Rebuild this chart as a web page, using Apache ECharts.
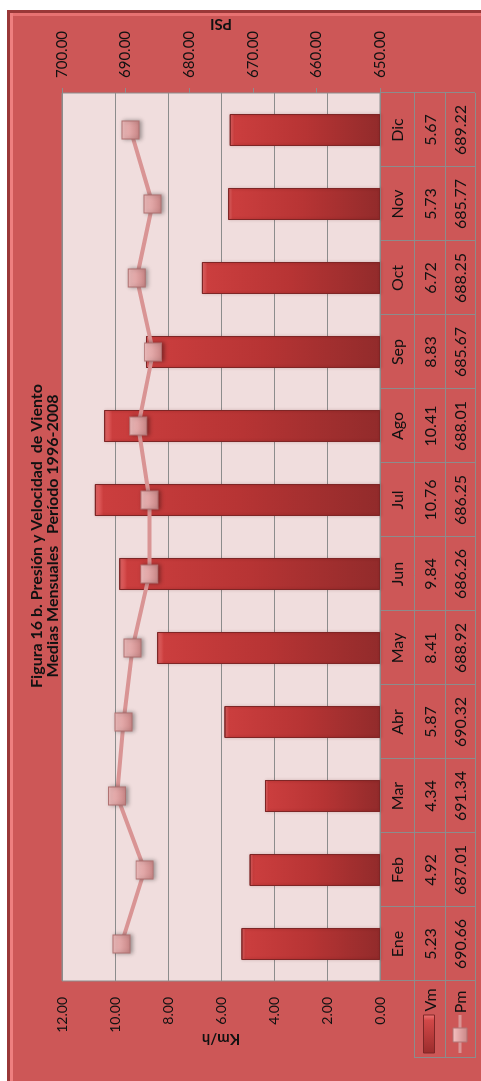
<!DOCTYPE html>
<html>
<head>
<meta charset="utf-8">
<script src="https://cdn.jsdelivr.net/npm/echarts@6/dist/echarts.min.js"></script>
<style>
  html, body { margin: 0; padding: 0; background: #fff; overflow: hidden; }
  /* the chart is drawn landscape (1081x481) and turned a quarter turn */
  #wrap {
    position: absolute; left: 0; top: 0;
    width: 1081px; height: 481px;
    transform-origin: 0 0;
    transform: translateY(1081px) rotate(-90deg);
    background: #fff;
  }
  #frame {
    position: absolute; left: -5px; top: 7px;
    width: 1076px; height: 480px;
    box-sizing: border-box;
    background: #cd5757;
    border: 3px solid #9a3838;
    box-shadow: inset 0 3px 0 #ee7f7f, inset -3px 0 0 #e77272;
  }
  #chart { position: absolute; left: 0; top: 0; width: 1081px; height: 481px; }
</style>
</head>
<body>
<div id="wrap">
  <div id="frame"></div>
  <div id="chart"></div>
</div>
<script>
// datos
var meses = ['Ene', 'Feb', 'Mar', 'Abr', 'May', 'Jun', 'Jul', 'Ago', 'Sep', 'Oct', 'Nov', 'Dic'];
var vm = [5.23, 4.92, 4.34, 5.87, 8.41, 9.84, 10.76, 10.41, 8.83, 6.72, 5.73, 5.67];
var pm = [690.66, 687.01, 691.34, 690.32, 688.92, 686.26, 686.25, 688.01, 685.67, 688.25, 685.77, 689.22];
var kmhTicks = [0, 2, 4, 6, 8, 10, 12];
var psiTicks = [650, 660, 670, 680, 690, 700];

var W = 1081, H = 481;
var FONT = 'Lato, "Open Sans", sans-serif';
var LINE = '#8c8c8c';

var chart = echarts.init(document.getElementById('chart'));

var option = {
  animation: false,
  textStyle: { fontFamily: FONT },
  grid: {
    left: 100, right: 93, top: 62, bottom: 101,
    show: true,
    backgroundColor: '#f0dddd',
    borderColor: LINE,
    borderWidth: 1
  },
  xAxis: {
    type: 'category',
    data: meses,
    axisLine: { show: false },
    axisTick: { show: false },
    axisLabel: { show: false }
  },
  yAxis: [
    {
      type: 'value',
      min: kmhTicks[0],
      max: kmhTicks[kmhTicks.length - 1],
      interval: kmhTicks[1] - kmhTicks[0],
      name: 'Km/h',
      nameLocation: 'middle',
      nameGap: 50,
      nameRotate: 90,
      nameMoveOverlap: false,
      nameTextStyle: { fontSize: 15, fontWeight: 'bold', color: '#111', fontFamily: FONT },
      axisLine: { show: false },
      axisTick: { show: false },
      axisLabel: {
        margin: 16, fontSize: 14, color: '#111', fontFamily: FONT,
        formatter: function (v) { return v.toFixed(2); }
      },
      splitLine: { lineStyle: { color: LINE, width: 1 } }
    },
    {
      type: 'value',
      min: psiTicks[0],
      max: psiTicks[psiTicks.length - 1],
      interval: psiTicks[1] - psiTicks[0],
      position: 'right',
      name: 'PSI',
      nameLocation: 'middle',
      nameGap: 62,
      nameRotate: 90,
      nameMoveOverlap: false,
      nameTextStyle: { fontSize: 15, fontWeight: 'bold', color: '#111', fontFamily: FONT },
      axisLine: { show: false },
      axisTick: { show: true, length: 5, lineStyle: { color: LINE } },
      axisLabel: {
        margin: 15, fontSize: 15, color: '#111', fontFamily: FONT,
        formatter: function (v) { return v.toFixed(2); }
      },
      splitLine: { show: false }
    }
  ],
  series: [
    {
      name: 'Vm',
      type: 'bar',
      yAxisIndex: 0,
      data: vm,
      barWidth: 32,
      itemStyle: {
        color: new echarts.graphic.LinearGradient(0, 0, 0, 1, [
          { offset: 0, color: '#f07474' },
          { offset: 0.03, color: '#cb3e3e' },
          { offset: 0.5, color: '#b73434' },
          { offset: 1, color: '#922b2b' }
        ]),
        borderColor: '#7e2626',
        borderWidth: 1,
        shadowBlur: 3,
        shadowColor: 'rgba(80,0,0,0.35)',
        shadowOffsetY: 1
      }
    },
    {
      name: 'Pm',
      type: 'line',
      yAxisIndex: 1,
      data: pm,
      z: 5,
      lineStyle: { color: '#d99494', width: 4 },
      symbol: 'rect',
      symbolSize: [18, 17],
      itemStyle: {
        color: new echarts.graphic.LinearGradient(0, 0, 0, 1, [
          { offset: 0, color: '#f6c2c2' },
          { offset: 1, color: '#c98686' }
        ]),
        borderColor: '#b07272',
        borderWidth: 1,
        shadowBlur: 4,
        shadowColor: 'rgba(0,0,0,0.35)',
        shadowOffsetY: 2
      }
    }
  ]
};

chart.setOption(option);

// tabla de datos y leyenda bajo el área de trazado
var plotLeft = option.grid.left;
var plotRight = W - option.grid.right;
var plotBottom = H - option.grid.bottom;
var rows = [plotBottom, plotBottom + 34, plotBottom + 65, plotBottom + 95];
var legendLeft = 23;

var centers = meses.map(function (m) {
  return chart.convertToPixel({ xAxisIndex: 0 }, m);
});
var step = centers[1] - centers[0];

var g = [];
function hline(x1, x2, y) {
  g.push({ type: 'line', shape: { x1: x1, y1: y + 0.5, x2: x2, y2: y + 0.5 }, style: { stroke: LINE, lineWidth: 1 } });
}
function vline(x, y1, y2) {
  g.push({ type: 'line', shape: { x1: x + 0.5, y1: y1, x2: x + 0.5, y2: y2 }, style: { stroke: LINE, lineWidth: 1 } });
}
function txt(s, x, y, size) {
  g.push({ type: 'text', x: x, y: y, z: 10, style: { text: s, fill: '#111', font: size + 'px ' + FONT, align: 'center', verticalAlign: 'middle' } });
}

hline(legendLeft, plotRight, rows[1]);
hline(legendLeft, plotRight, rows[2]);
hline(legendLeft, plotRight, rows[3]);
vline(legendLeft, rows[1], rows[3]);
for (var k = 0; k <= meses.length; k++) {
  vline(Math.round(plotLeft + k * step), rows[0], rows[3]);
}
for (var i = 0; i < meses.length; i++) {
  txt(meses[i], centers[i], (rows[0] + rows[1]) / 2 + 1, 16);
  txt(vm[i].toFixed(2), centers[i], (rows[1] + rows[2]) / 2 + 1, 16);
  txt(pm[i].toFixed(2), centers[i], (rows[2] + rows[3]) / 2 + 1, 16);
}

// leyenda
var yVm = (rows[1] + rows[2]) / 2;
var yPm = (rows[2] + rows[3]) / 2;
g.push({
  type: 'rect', z: 10,
  shape: { x: 28, y: yVm - 6, width: 38, height: 11 },
  style: {
    fill: new echarts.graphic.LinearGradient(0, 0, 1, 0, [
      { offset: 0, color: '#9a2c2c' },
      { offset: 0.85, color: '#d24848' },
      { offset: 1, color: '#f27a7a' }
    ]),
    stroke: '#7e2626', lineWidth: 1
  }
});
txt('Vm', 81, yVm + 1, 16);
g.push({ type: 'line', z: 10, shape: { x1: 28, y1: yPm, x2: 66, y2: yPm }, style: { stroke: '#d99494', lineWidth: 3 } });
g.push({
  type: 'rect', z: 11,
  shape: { x: 39, y: yPm - 7, width: 14, height: 14 },
  style: {
    fill: new echarts.graphic.LinearGradient(0, 0, 0, 1, [
      { offset: 0, color: '#f6c2c2' },
      { offset: 1, color: '#c98686' }
    ]),
    stroke: '#b07272', lineWidth: 1
  }
});
txt('Pm', 79, yPm + 1, 16);

// título
g.push({
  type: 'text', x: 545, y: 45, z: 10,
  style: {
    text: 'Figura 16 b. Presión y Velocidad  de Viento\nMedias Mensuales   Período 1996-2008',
    fill: '#111', font: 'bold 16px ' + FONT, align: 'center', verticalAlign: 'middle', lineHeight: 16
  }
});

chart.setOption({ graphic: g });
</script>
</body>
</html>
